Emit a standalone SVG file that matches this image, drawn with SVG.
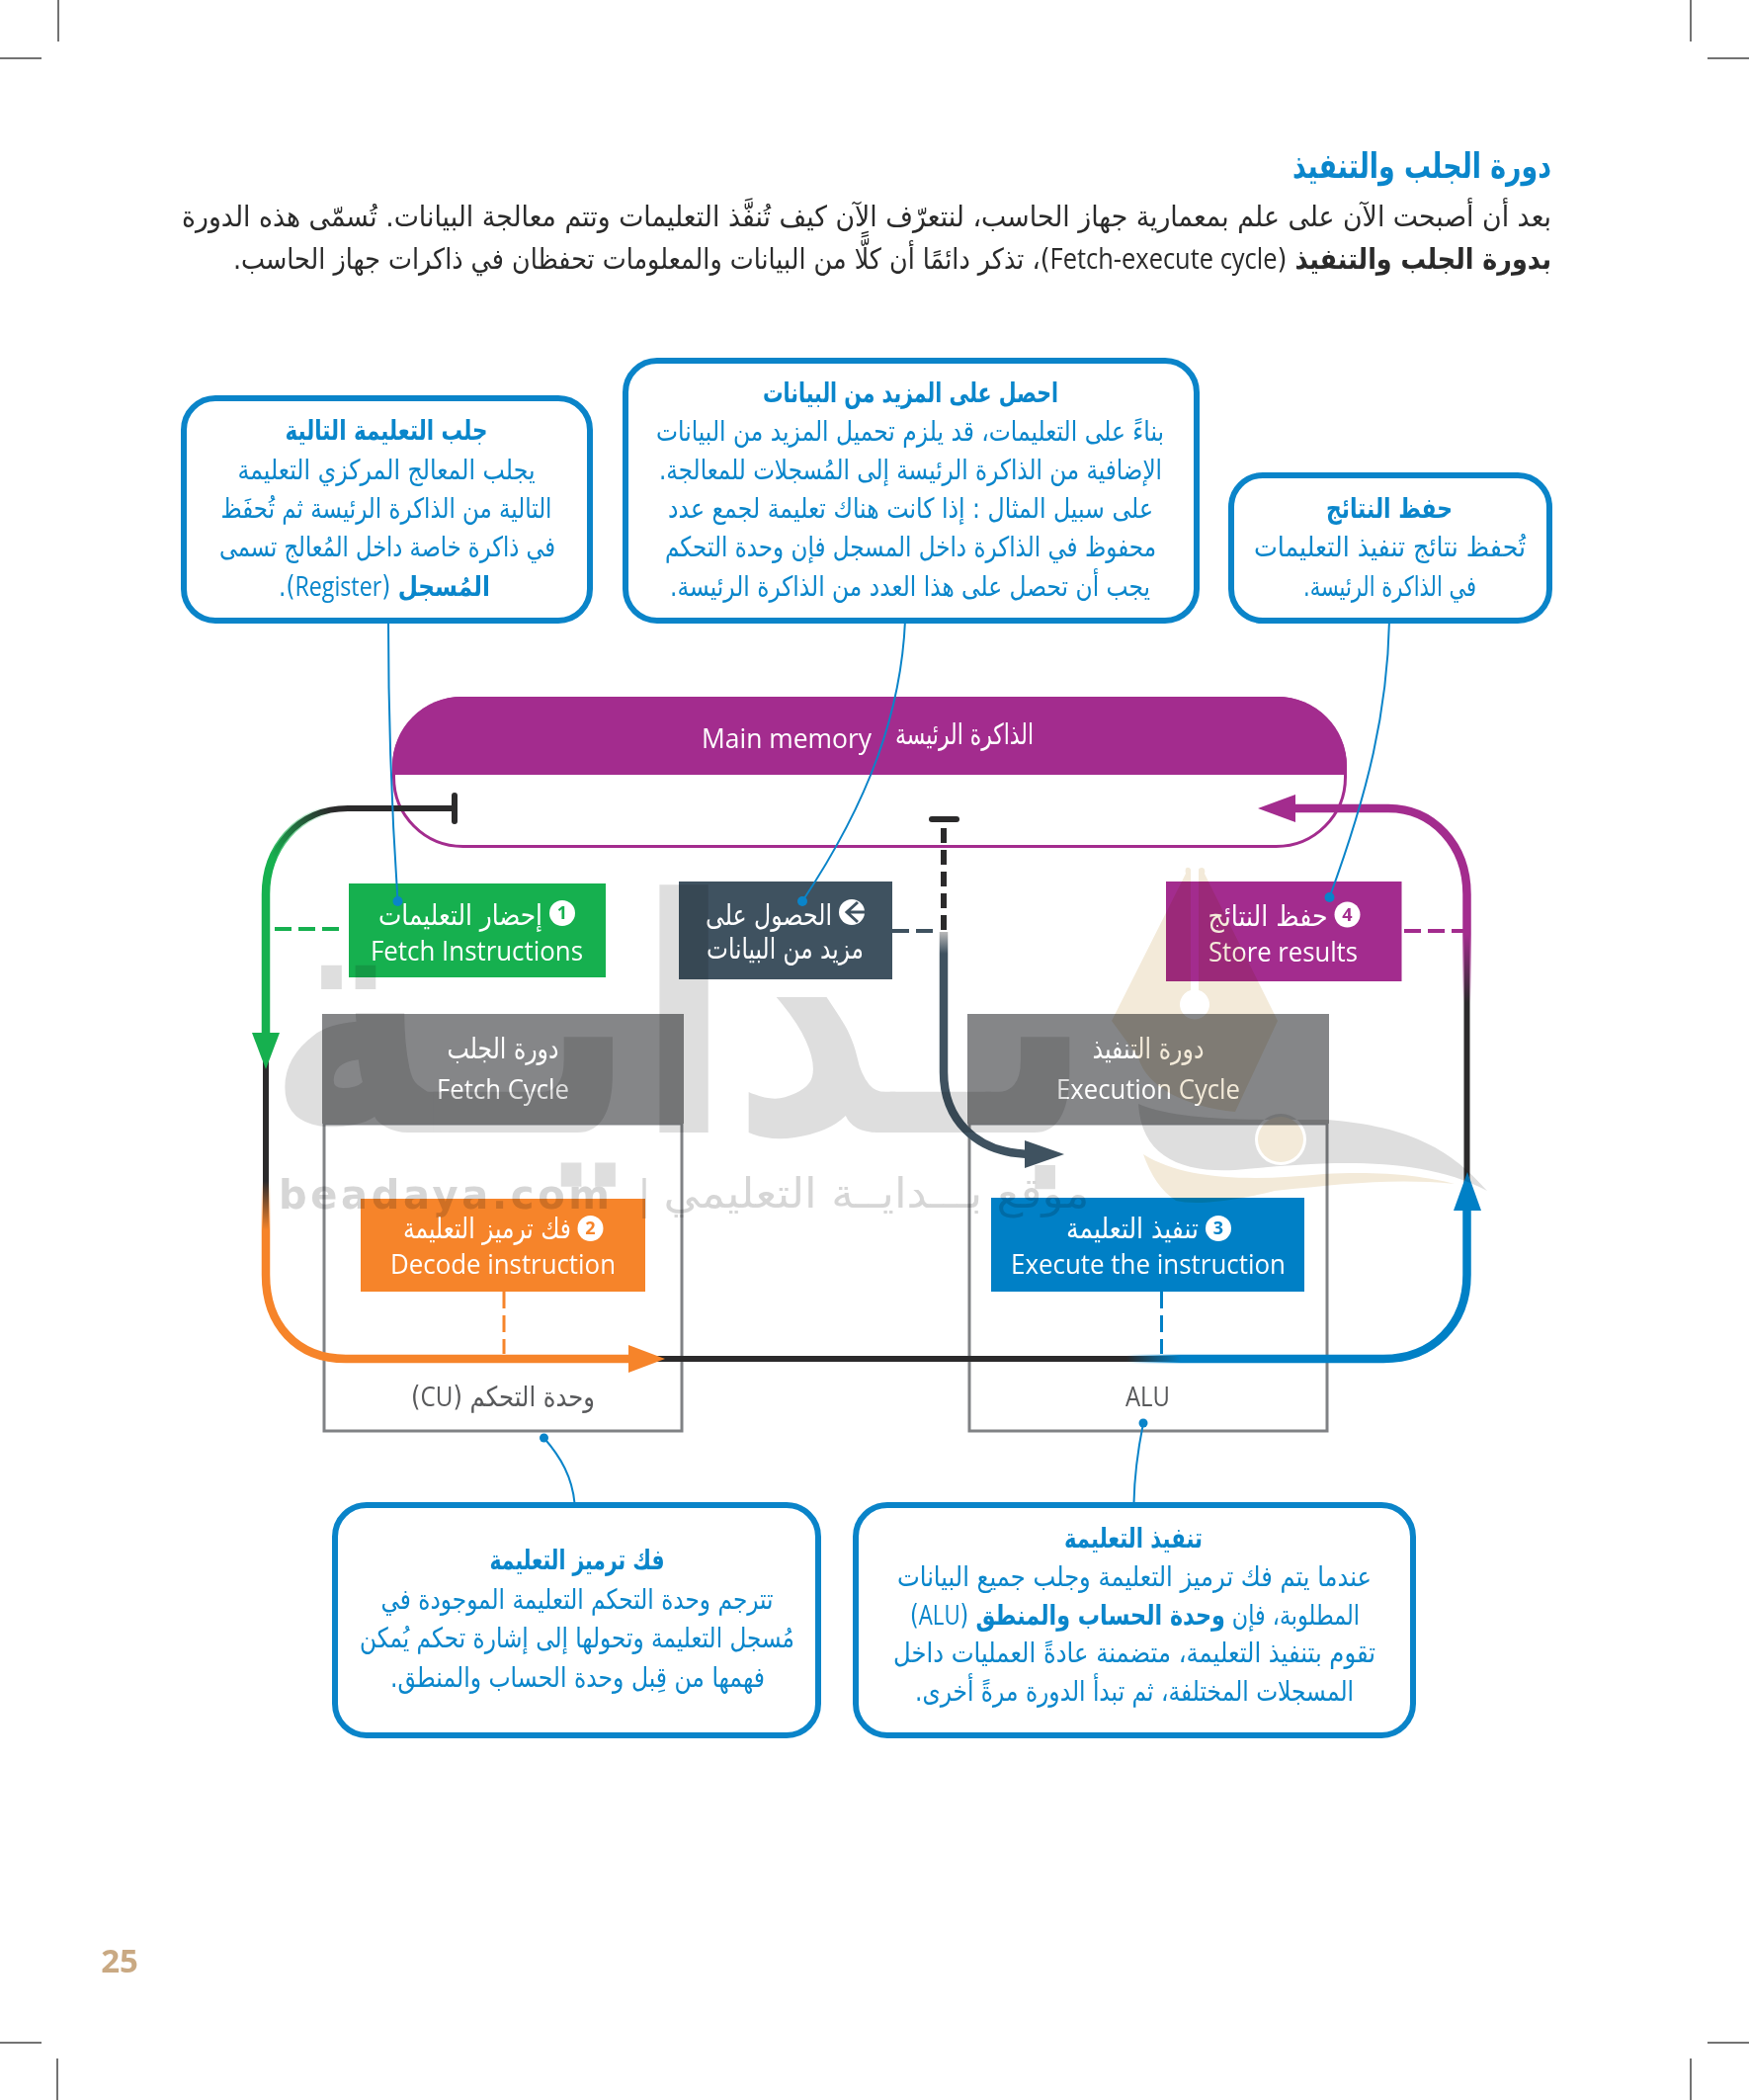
<svg xmlns="http://www.w3.org/2000/svg" width="1770" height="2125" viewBox="0 0 1770 2125">
<style>
text{font-family:"DejaVu Sans","Noto Sans",sans-serif;}
.ar{direction:rtl;unicode-bidi:embed;text-anchor:middle;}
.en{font-family:"Open Sans","Noto Sans",sans-serif;text-anchor:middle;fill:#fff;font-size:27px;}
.w{fill:#fff;font-size:29px;}
.c{fill:#0a86cb;font-size:28px;}
.t{fill:#0a86cb;font-size:28px;font-weight:bold;}
.b{fill:#2a2a2a;font-size:29px;}
.bd{font-weight:bold;}
.lat{font-family:"Open Sans","Noto Sans",sans-serif;font-weight:normal;}
.call{fill:#fff;stroke:#0a84c9;stroke-width:6;}
.lead{fill:none;stroke:#0a84c9;stroke-width:2;}
.dot{fill:#0a84c9;}
.mark{stroke:#444;stroke-width:1.5;}
.conn{fill:none;stroke-width:8.500;}
.blk{fill:none;stroke:#2b2a2b;stroke-width:6;}
.dash{fill:none;stroke-dasharray:17 7;stroke-width:4;}
.hdr{fill:#858688;}
.num{font-family:"Open Sans",sans-serif;font-weight:bold;font-size:18px;text-anchor:middle;}
.unit{fill:none;stroke:#808285;stroke-width:3;}
.wm{mix-blend-mode:multiply;}
</style>
<defs>
<linearGradient id="gStart" gradientUnits="userSpaceOnUse" x1="338" y1="822" x2="282" y2="875"><stop offset="0" stop-color="#16b04f" stop-opacity="0"/><stop offset="1" stop-color="#16b04f"/></linearGradient>
<linearGradient id="gOrange" gradientUnits="userSpaceOnUse" x1="0" y1="1195" x2="0" y2="1245"><stop offset="0" stop-color="#f6842a" stop-opacity="0"/><stop offset="1" stop-color="#f6842a"/></linearGradient>
<linearGradient id="gBlue" gradientUnits="userSpaceOnUse" x1="1140" y1="0" x2="1195" y2="0"><stop offset="0" stop-color="#0080c6" stop-opacity="0"/><stop offset="1" stop-color="#0080c6"/></linearGradient>
<linearGradient id="gPurple" gradientUnits="userSpaceOnUse" x1="0" y1="945" x2="0" y2="1015"><stop offset="0" stop-color="#a32c8e"/><stop offset="1" stop-color="#a32c8e" stop-opacity="0"/></linearGradient>
<linearGradient id="gDark" gradientUnits="userSpaceOnUse" x1="0" y1="943" x2="0" y2="965"><stop offset="0" stop-color="#bbb"/><stop offset="1" stop-color="#3f5260"/></linearGradient>
</defs>
<rect width="1770" height="2125" fill="#fff"/>

<g id="crop-marks">
<line class="mark" x1="59" y1="0" x2="59" y2="42"/><line class="mark" x1="0" y1="59" x2="42" y2="59"/>
<line class="mark" x1="1711" y1="0" x2="1711" y2="42"/><line class="mark" x1="1728" y1="59" x2="1770" y2="59"/>
<line class="mark" x1="58" y1="2083" x2="58" y2="2125"/><line class="mark" x1="0" y1="2067" x2="42" y2="2067"/>
<line class="mark" x1="1711" y1="2083" x2="1711" y2="2125"/><line class="mark" x1="1728" y1="2067" x2="1770" y2="2067"/>
</g>

<g id="intro">
<text class="ar bd" x="1439" y="180" font-size="35" fill="#0a86cb" font-weight="bold" textLength="262" lengthAdjust="spacingAndGlyphs">دورة الجلب والتنفيذ</text>
<text class="ar b" x="877" y="229" textLength="1386" lengthAdjust="spacingAndGlyphs">بعد أن أصبحت الآن على علم بمعمارية جهاز الحاسب، لنتعرّف الآن كيف تُنفَّذ التعليمات وتتم معالجة البيانات. تُسمّى هذه الدورة</text>
<text class="ar b" x="903" y="272" textLength="1334" lengthAdjust="spacingAndGlyphs"><tspan class="bd">بدورة الجلب والتنفيذ</tspan> (<tspan class="lat">Fetch-execute cycle</tspan>)، تذكر دائمًا أن كلًّا من البيانات والمعلومات تحفظان في ذاكرات جهاز الحاسب.</text>
</g>

<g id="callout-fetch">
<rect class="call" x="186" y="403" width="411" height="225" rx="32"/>
<text class="ar t" x="391" y="445" textLength="205" lengthAdjust="spacingAndGlyphs">جلب التعليمة التالية</text>
<text class="ar c" x="391" y="485" textLength="301" lengthAdjust="spacingAndGlyphs">يجلب المعالج المركزي التعليمة</text>
<text class="ar c" x="391" y="524" textLength="335" lengthAdjust="spacingAndGlyphs">التالية من الذاكرة الرئيسة ثم تُحفَظ</text>
<text class="ar c" x="392" y="563" textLength="340" lengthAdjust="spacingAndGlyphs">في ذاكرة خاصة داخل المُعالج تسمى</text>
<text class="ar c" x="389" y="603" textLength="214" lengthAdjust="spacingAndGlyphs"><tspan class="bd">المُسجل</tspan> (<tspan class="lat">Register</tspan>).</text>
</g>
<g id="callout-more-data">
<rect class="call" x="633" y="365" width="578" height="263" rx="32"/>
<text class="ar t" x="921.500" y="407" textLength="299" lengthAdjust="spacingAndGlyphs">احصل على المزيد من البيانات</text>
<text class="ar c" x="921" y="446" textLength="514" lengthAdjust="spacingAndGlyphs">بناءً على التعليمات، قد يلزم تحميل المزيد من البيانات</text>
<text class="ar c" x="921.500" y="485" textLength="509" lengthAdjust="spacingAndGlyphs">الإضافية من الذاكرة الرئيسة إلى المُسجلات للمعالجة.</text>
<text class="ar c" x="921.500" y="524" textLength="491" lengthAdjust="spacingAndGlyphs">على سبيل المثال : إذا كانت هناك تعليمة لجمع عدد</text>
<text class="ar c" x="921.500" y="563" textLength="497" lengthAdjust="spacingAndGlyphs">محفوظ في الذاكرة داخل المسجل فإن وحدة التحكم</text>
<text class="ar c" x="921" y="603" textLength="486" lengthAdjust="spacingAndGlyphs">يجب أن تحصل على هذا العدد من الذاكرة الرئيسة.</text>
</g>
<g id="callout-save">
<rect class="call" x="1246" y="481" width="322" height="147" rx="32"/>
<text class="ar t" x="1406" y="524" textLength="128" lengthAdjust="spacingAndGlyphs">حفظ النتائج</text>
<text class="ar c" x="1406.500" y="563" textLength="275" lengthAdjust="spacingAndGlyphs">تُحفظ نتائج تنفيذ التعليمات</text>
<text class="ar c" x="1406.500" y="603" textLength="175" lengthAdjust="spacingAndGlyphs">في الذاكرة الرئيسة.</text>
</g>

<g id="main-memory">
<rect x="398.500" y="706.500" width="963" height="150" rx="70" fill="#fff" stroke="#a32c8e" stroke-width="3"/>
<path d="M397 784V775A70 70 0 0 1 467 705H1293A70 70 0 0 1 1363 775V784Z" fill="#a32c8e"/>
<text class="en" x="796" y="757" textLength="172" lengthAdjust="spacingAndGlyphs">Main memory</text>
<text class="ar w" x="976" y="753" textLength="140" lengthAdjust="spacingAndGlyphs">الذاكرة الرئيسة</text>
</g>

<g id="cu-unit">
<rect class="unit" x="328" y="1137" width="362" height="311"/>
<rect class="hdr" x="326" y="1026" width="366" height="111"/>
<text class="ar w" x="509" y="1071" textLength="113" lengthAdjust="spacingAndGlyphs">دورة الجلب</text>
<text class="en" x="509" y="1112" textLength="134" lengthAdjust="spacingAndGlyphs">Fetch Cycle</text>
<text class="ar" x="509" y="1423" fill="#58595b" font-size="28" textLength="186" lengthAdjust="spacingAndGlyphs">وحدة التحكم (<tspan class="lat">CU</tspan>)</text>
</g>
<g id="alu-unit">
<rect class="unit" x="981" y="1137" width="362" height="311"/>
<rect class="hdr" x="979" y="1026" width="366" height="111"/>
<text class="ar w" x="1162" y="1071" textLength="113" lengthAdjust="spacingAndGlyphs">دورة التنفيذ</text>
<text class="en" x="1162" y="1112" textLength="186" lengthAdjust="spacingAndGlyphs">Execution Cycle</text>
<text class="en" x="1161.500" y="1423" style="fill:#58595b" textLength="45" lengthAdjust="spacingAndGlyphs">ALU</text>
</g>

<g id="connectors">
<path class="blk" d="M460 818H352C300 818 269 860 269 905V1290C269 1340 300 1375 350 1375H1400C1450 1375 1484.500 1340 1484.500 1290V905C1484.500 855 1450 818 1405 818H1305"/>
<path class="conn" stroke="url(#gStart)" d="M352 818C300 818 269 860 269 905V1050"/>
<path class="conn" stroke="url(#gOrange)" d="M269 1190V1290C269 1340 300 1375 350 1375H645"/>
<path class="conn" stroke="url(#gBlue)" d="M1135 1375H1400C1450 1375 1484.500 1340 1484.500 1290V1220"/>
<path class="conn" stroke="url(#gPurple)" d="M1305 818H1405C1450 818 1484.500 855 1484.500 905V1020"/>
<path class="conn" stroke="url(#gDark)" d="M955 943V1085C955 1130 985 1168 1045 1168"/>
<path d="M955 838V942" fill="none" stroke="#2b2a2b" stroke-width="6" stroke-dasharray="15 7"/>
<path d="M943 829H968" fill="none" stroke="#2b2a2b" stroke-width="6" stroke-linecap="round"/>
<path d="M460 805V831" fill="none" stroke="#2b2a2b" stroke-width="6" stroke-linecap="round"/>
<polygon points="255,1045 283,1045 269,1082" fill="#16b04f"/>
<polygon points="636,1361 636,1389 673,1375" fill="#f6842a"/>
<polygon points="1471,1225 1499,1225 1485,1186" fill="#0080c6"/>
<polygon points="1311,804 1311,832 1273,818" fill="#a32c8e"/>
<polygon points="1037,1154 1037,1182 1077,1168" fill="#3f5260"/>
<path class="dash" stroke="#16b04f" d="M278 940H343"/>
<path class="dash" stroke="#3f5260" d="M903 942H945"/>
<path class="dash" stroke="#a32c8e" d="M1421 942H1484"/>
<path class="dash" stroke="#f6842a" style="stroke-width:3" d="M510 1307V1370"/>
<path class="dash" stroke="#0080c6" style="stroke-width:3" d="M1175.500 1307V1370"/>
</g>

<g id="node-fetch">
<rect x="353" y="894" width="260" height="95" fill="#16b04f"/>
<circle cx="569" cy="924" r="13" fill="#fff"/><text class="num" x="569" y="930" fill="#16b04f">1</text>
<text class="ar w" x="466" y="936" textLength="166" lengthAdjust="spacingAndGlyphs">إحضار التعليمات</text>
<text class="en" x="482.500" y="972" textLength="215" lengthAdjust="spacingAndGlyphs">Fetch Instructions</text>
</g>
<g id="node-more-data">
<rect x="687" y="892" width="216" height="99" fill="#3f5260"/>
<circle cx="862" cy="923" r="13" fill="#fff"/><path d="M868 913L857 923L868 933M858 923H875" fill="none" stroke="#3f5260" stroke-width="3"/>
<text class="ar w" x="778" y="936" textLength="128" lengthAdjust="spacingAndGlyphs">الحصول على</text>
<text class="ar w" x="794.500" y="970" textLength="159" lengthAdjust="spacingAndGlyphs">مزيد من البيانات</text>
</g>
<g id="node-store">
<rect x="1180" y="892" width="238.500" height="101" fill="#a32c8e"/>
<circle cx="1363.500" cy="925.500" r="13" fill="#fff"/><text class="num" x="1363.500" y="932" fill="#a32c8e">4</text>
<text class="ar w" x="1283" y="937" textLength="121" lengthAdjust="spacingAndGlyphs">حفظ النتائج</text>
<text class="en" x="1298.500" y="973" textLength="151" lengthAdjust="spacingAndGlyphs">Store results</text>
</g>
<g id="node-decode">
<rect x="365" y="1213" width="288" height="94" fill="#f6842a"/>
<circle cx="597.500" cy="1243" r="13" fill="#fff"/><text class="num" x="597.500" y="1249" fill="#f6842a">2</text>
<text class="ar w" x="493" y="1253" textLength="170" lengthAdjust="spacingAndGlyphs">فك ترميز التعليمة</text>
<text class="en" x="509" y="1289" textLength="228" lengthAdjust="spacingAndGlyphs">Decode instruction</text>
</g>
<g id="node-execute">
<rect x="1003" y="1212" width="317" height="95" fill="#0080c6"/>
<circle cx="1233" cy="1243" r="13" fill="#fff"/><text class="num" x="1233" y="1249" fill="#0080c6">3</text>
<text class="ar w" x="1146" y="1253" textLength="134" lengthAdjust="spacingAndGlyphs">تنفيذ التعليمة</text>
<text class="en" x="1162" y="1289" textLength="278" lengthAdjust="spacingAndGlyphs">Execute the instruction</text>
</g>

<g id="callout-decode">
<rect class="call" x="339" y="1523" width="489" height="233" rx="32"/>
<text class="ar t" x="584" y="1588" textLength="177" lengthAdjust="spacingAndGlyphs">فك ترميز التعليمة</text>
<text class="ar c" x="584" y="1628" textLength="397" lengthAdjust="spacingAndGlyphs">تترجم وحدة التحكم التعليمة الموجودة في</text>
<text class="ar c" x="584" y="1667" textLength="440" lengthAdjust="spacingAndGlyphs">مُسجل التعليمة وتحولها إلى إشارة تحكم يُمكن</text>
<text class="ar c" x="584.500" y="1707" textLength="379" lengthAdjust="spacingAndGlyphs">فهمها من قِبل وحدة الحساب والمنطق.</text>
</g>
<g id="callout-execute">
<rect class="call" x="866" y="1523" width="564" height="233" rx="32"/>
<text class="ar t" x="1147" y="1566" textLength="140" lengthAdjust="spacingAndGlyphs">تنفيذ التعليمة</text>
<text class="ar c" x="1148" y="1605" textLength="480" lengthAdjust="spacingAndGlyphs">عندما يتم فك ترميز التعليمة وجلب جميع البيانات</text>
<text class="ar c" x="1148.500" y="1644" textLength="455" lengthAdjust="spacingAndGlyphs">المطلوبة، فإن <tspan class="bd">وحدة الحساب والمنطق</tspan> (<tspan class="lat">ALU</tspan>)</text>
<text class="ar c" x="1148" y="1682" textLength="488" lengthAdjust="spacingAndGlyphs">تقوم بتنفيذ التعليمة، متضمنة عادةً العمليات داخل</text>
<text class="ar c" x="1148" y="1721" textLength="444" lengthAdjust="spacingAndGlyphs">المسجلات المختلفة، ثم تبدأ الدورة مرةً أخرى.</text>
</g>

<g id="leaders">
<path class="lead" d="M393 628C393 700 395 800 402.500 912"/><circle class="dot" cx="402.500" cy="912" r="5"/>
<path class="lead" d="M916 628C912 720 880 810 812 912"/><circle class="dot" cx="812" cy="912" r="5"/>
<path class="lead" d="M1406 628C1404 720 1385 800 1345.500 908"/><circle class="dot" cx="1345.500" cy="908" r="5"/>
<path class="lead" d="M581.500 1521C579 1495 568 1475 550.500 1455"/><circle class="dot" cx="550.500" cy="1455" r="4.500"/>
<path class="lead" d="M1147.500 1521C1148 1490 1152 1465 1157 1440"/><circle class="dot" cx="1157" cy="1440" r="4.500"/>
</g>

<g id="watermark" class="wm">
<text class="ar" x="688" y="1146" font-size="330" font-weight="bold" fill="#dedede" textLength="836" lengthAdjust="spacingAndGlyphs">بـدايـة</text>
<path fill-rule="evenodd" fill="#f3ead9" d="M1200 884C1198 876 1204 877 1205 880V1002A15 15 0 1 0 1213 1002V880C1214 877 1221 877 1219 884L1293 1033L1250 1125C1200 1120 1160 1100 1152 1070L1125 1033Z"/>
<path fill-rule="evenodd" fill="#dedede" d="M1152 1117C1155 1170 1195 1187 1250 1184C1320 1178 1430 1165 1505 1205C1470 1165 1430 1140 1343 1133C1270 1133 1195 1135 1152 1117ZM1322 1153A26 26 0 1 0 1270 1153A26 26 0 1 0 1322 1153Z"/>
<circle cx="1296" cy="1153" r="23" fill="#f3ead9"/>
<path fill="#f3ead9" d="M1157 1168C1200 1195 1270 1195 1340 1188C1400 1185 1440 1190 1472 1198C1410 1192 1360 1198 1290 1205C1250 1215 1210 1220 1190 1215C1175 1205 1165 1190 1157 1168Z"/>
<text x="282" y="1223" font-size="40" font-weight="bold" fill="#d6d6d6" textLength="335" lengthAdjust="spacing">beadaya.com</text>
<text x="652" y="1223" font-size="40" fill="#d6d6d6" text-anchor="middle">|</text>
<text class="ar" x="887" y="1222" font-size="42" fill="#d6d6d6" textLength="431" lengthAdjust="spacingAndGlyphs">موقع بـــدايــة التعليمي</text>
</g>

<g id="page-number">
<text x="121" y="1996" font-size="33" font-weight="bold" fill="#c9a983" text-anchor="middle" style="font-family:'Open Sans',sans-serif">25</text>
</g>
</svg>
